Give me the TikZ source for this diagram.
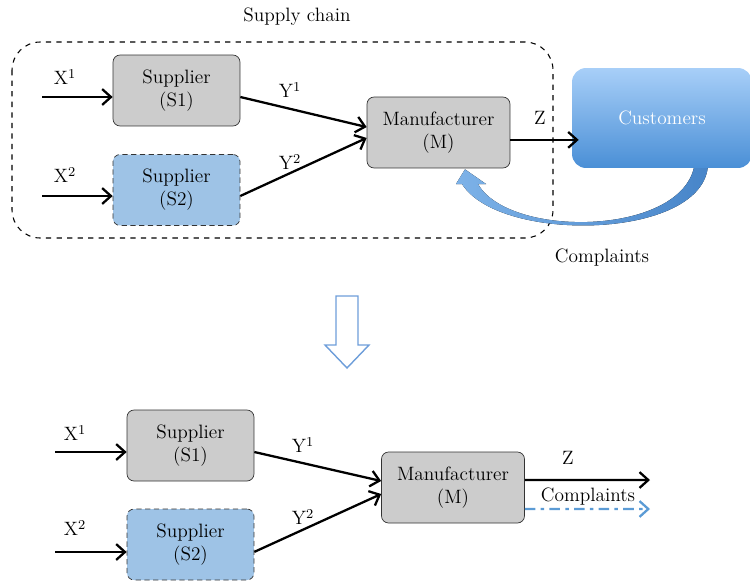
\documentclass[tikz,border=0pt]{standalone}
\usepackage{xcolor}
\usepackage{tikz}
\usetikzlibrary{arrows.meta,calc,backgrounds}
\definecolor{boxgray}{RGB}{204,204,204}
\definecolor{boxblue}{RGB}{158,195,230}
\definecolor{custtop}{RGB}{168,207,248}
\definecolor{custbot}{RGB}{74,143,214}
\definecolor{loopleft}{RGB}{125,178,232}
\definecolor{loopright}{RGB}{70,132,200}
\definecolor{flowblue}{RGB}{91,155,213}
\definecolor{hollowblue}{RGB}{110,158,218}

\begin{document}
\begin{tikzpicture}[x=0.02cm, y=-0.02cm, font=\fontsize{11}{13}\selectfont,
  unit/.style={draw=black!80, rounded corners=4pt, align=center, minimum height=1.42cm},
  supp/.style={unit, minimum width=2.54cm, fill=boxgray},
  backup/.style={unit, minimum width=2.54cm, fill=boxblue, densely dashed},
  maker/.style={unit, minimum width=2.86cm, fill=boxgray},
  flow/.style={line width=1.3pt, -{Straight Barb[length=5pt,width=9pt]}}]
\useasboundingbox (0,0) rectangle (750,585);

% supply chain with customers
\node (chain) at (297,17) {Supply chain};
\node[supp] (s1) at (176.5,90.5) {Supplier\\(S1)};
\node[backup] (s2) at (176.5,190) {Supplier\\(S2)};
\node[maker] (m) at (438.5,132.5) {Manufacturer\\(M)};
\node[rounded corners=8pt, minimum width=3.6cm, minimum height=2cm, top color=custtop, bottom color=custbot, text=white] (cust) at (662,118) {Customers};

\coordinate (x1) at (42,97);
\coordinate (x2) at (42,196);
\draw[flow] (x1) -- (x1 -| s1.west);
\draw[flow] (x2) -- (x2 -| s2.west);
\node (lx1) at (65,77) {X\textsuperscript{1}};
\node (lx2) at (65,175) {X\textsuperscript{2}};
\draw[flow] ([yshift=-3.7pt]s1.east) -- ([yshift=3.1pt]m.west);
\draw[flow] ([yshift=-3.4pt]s2.east) -- ([yshift=-3.1pt]m.west);
\node (ly1) at (290,90) {Y\textsuperscript{1}};
\node (ly2) at (290,162) {Y\textsuperscript{2}};
\coordinate (zs) at ([yshift=-4.2pt]m.east);
\draw[flow] (zs) -- ([xshift=4pt]zs -| cust.west);
\node (lz) at (540,118) {Z};
\node (lcompl) at (602,258) {Complaints};

\begin{scope}[on background layer]
\draw[black, line width=0.6pt, dashed, rounded corners=16pt] (12,42) rectangle (553,238);
\coordinate (cb1) at ($(cust.south)+(46,-8)$);
\coordinate (cb2) at ($(cust.south)+(33,-8)$);
\coordinate (tip) at ($(m.south)+(26.5,1)$);
\fill[left color=loopleft, right color=loopright] (cb1) .. controls (712,240) and (500,245) .. (462,184)
  -- (456,184) -- (tip) -- (486,184) -- (478,184) .. controls (510,240) and (690,236) .. (cb2) -- cycle;
\end{scope}

% hollow arrow between the two states
\draw[hollowblue, fill=white, line width=0.8pt] (336,296) -- (358,296) -- (358,345) -- (369,345)
  -- (347,368) -- (325,345) -- (336,345) -- cycle;

% without customers
\node[supp] (s1b) at (190.5,445.5) {Supplier\\(S1)};
\node[backup] (s2b) at (190.5,544.5) {Supplier\\(S2)};
\node[maker] (mb) at (453,487.5) {Manufacturer\\(M)};

\coordinate (xb1) at (55,452);
\coordinate (xb2) at (55,552);
\draw[flow] (xb1) -- (xb1 -| s1b.west);
\draw[flow] (xb2) -- (xb2 -| s2b.west);
\node (lxb1) at (75,433) {X\textsuperscript{1}};
\node (lxb2) at (75,528) {X\textsuperscript{2}};
\draw[flow] ([yshift=-3.7pt]s1b.east) -- ([yshift=3.7pt]mb.west);
\draw[flow] ([yshift=-4.2pt]s2b.east) -- ([yshift=-3.7pt]mb.west);
\node (lyb1) at (303,445) {Y\textsuperscript{1}};
\node (lyb2) at (303,517) {Y\textsuperscript{2}};
\coordinate (zb) at ([yshift=4.25pt]mb.east);
\coordinate (zend) at (650,480);
\draw[flow] (zb) -- (zend);
\node (lzb) at (568,458) {Z};
\coordinate (cbs) at ([yshift=-12.2pt]mb.east);
\coordinate (cend) at (650,509);
\draw[flow, flowblue, dash pattern=on 6pt off 3pt on 2pt off 3pt] (cbs) -- (cend);
\node (lcomplb) at (588,497) {Complaints};
\end{tikzpicture}
\end{document}
